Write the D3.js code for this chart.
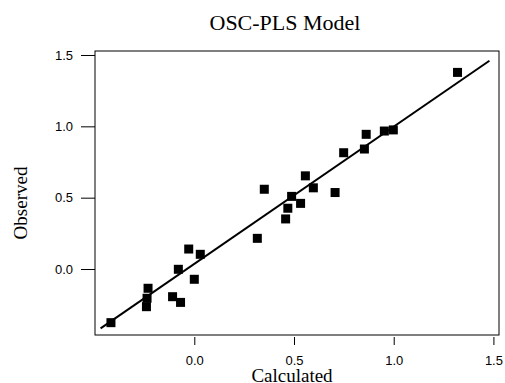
<!DOCTYPE html>
<html>
<head>
<meta charset="utf-8">
<script src="https://cdn.jsdelivr.net/npm/d3@7"></script>
<style>
html,body{margin:0;padding:0;background:#fff;}
svg{display:block;}
</style>
</head>
<body>
<script>
// Data
const calculated = [-0.418, -0.232, -0.237, -0.240, -0.109, -0.069, -0.080, -0.028, 0.000, 0.030,
  0.316, 0.351, 0.458, 0.469, 0.488, 0.533, 0.557, 0.597, 0.706, 0.749, 0.853, 0.862, 0.953, 0.998, 1.320];
const observed = [-0.376, -0.135, -0.205, -0.264, -0.194, -0.234, -0.002, 0.140, -0.072, 0.103,
  0.215, 0.559, 0.351, 0.426, 0.509, 0.460, 0.653, 0.569, 0.536, 0.815, 0.841, 0.944, 0.967, 0.975, 1.378];
const fitX = [-0.47, 1.48];
const fitY = [-0.416, 1.46];
const xTicks = [0.0, 0.5, 1.0, 1.5];
const yTicks = [0.0, 0.5, 1.0, 1.5];
const titleText = "OSC-PLS Model";
const xLabel = "Calculated";
const yLabel = "Observed";

const W = 505, H = 383;
const L = 95, R = 499, T = 51, B = 335;

const svg = d3.select("body").append("svg").attr("width", W).attr("height", H);

const x = d3.scaleLinear().domain([-0.498, 1.528]).range([L, R]);
const y = d3.scaleLinear().domain([-0.4625, 1.528]).range([B, T]);

// Box
svg.append("rect").attr("x", L).attr("y", T).attr("width", R - L).attr("height", B - T)
  .attr("fill", "none").attr("stroke", "#000").attr("stroke-width", 1);

// Y axis
const yAxis = d3.axisLeft(y).tickValues(yTicks).tickFormat(d3.format(".1f")).tickSize(14).tickPadding(8);
const gy = svg.append("g").attr("transform", `translate(${L},0)`).call(yAxis);
gy.select(".domain").remove();
gy.selectAll("text").attr("font-family", "Liberation Sans, Arial, sans-serif").attr("font-size", 13).attr("fill", "#000");
gy.selectAll("line").attr("stroke", "#000");

// X axis
const xAxis = d3.axisBottom(x).tickValues(xTicks).tickFormat(d3.format(".1f")).tickSize(8).tickPadding(11);
const gx = svg.append("g").attr("transform", `translate(0,${B + 2})`).call(xAxis);
gx.select(".domain").remove();
gx.selectAll("text").attr("font-family", "Liberation Sans, Arial, sans-serif").attr("font-size", 13).attr("fill", "#000");
gx.selectAll("line").attr("stroke", "#000");

// Fit line
const fit = fitX.map((v, i) => [v, fitY[i]]);
svg.append("path").datum(fit)
  .attr("d", d3.line().x(d => x(d[0])).y(d => y(d[1])))
  .attr("stroke", "#000").attr("stroke-width", 2).attr("fill", "none");

// Points
const s = 9;
svg.append("g").selectAll("rect").data(calculated.map((v, i) => [v, observed[i]]))
  .join("rect")
  .attr("x", d => x(d[0]) - s / 2).attr("y", d => y(d[1]) - s / 2)
  .attr("width", s).attr("height", s).attr("fill", "#000");

// Title and labels
svg.append("text").attr("x", 285).attr("y", 29.5).attr("text-anchor", "middle")
  .attr("font-family", "Liberation Serif, Times New Roman, serif").attr("font-size", 22).text(titleText);
svg.append("text").attr("x", 292).attr("y", 382).attr("text-anchor", "middle")
  .attr("font-family", "Liberation Serif, Times New Roman, serif").attr("font-size", 19).text(xLabel);
svg.append("text").attr("transform", "translate(27,203) rotate(-90)").attr("text-anchor", "middle")
  .attr("font-family", "Liberation Serif, Times New Roman, serif").attr("font-size", 19).text(yLabel);
</script>
</body>
</html>
